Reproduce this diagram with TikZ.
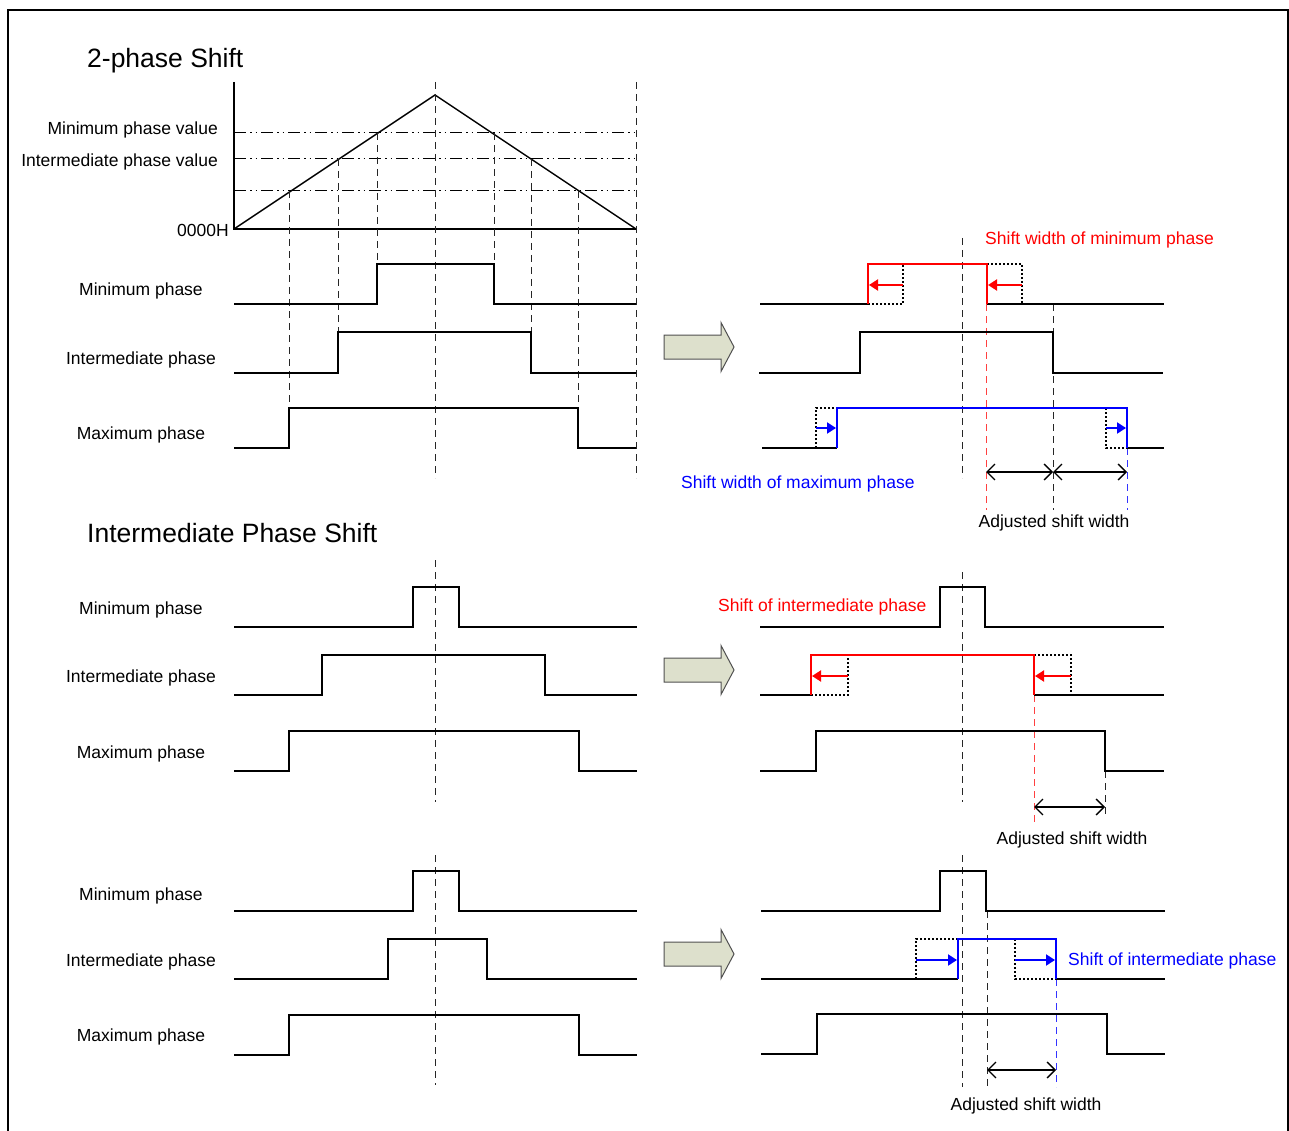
\documentclass[tikz,border=0pt]{standalone}
\usepackage{fontspec}
\setmainfont{Liberation Sans}
\usetikzlibrary{arrows.meta}
\definecolor{arrfill}{RGB}{221,224,204}
\definecolor{arrline}{RGB}{80,80,80}
\tikzset{
  wave/.style={line width=1.4pt,black,line join=miter},
  vdash/.style={line width=0.9pt,black!85,dash pattern=on 7pt off 5pt},
  ddash/.style={line width=1pt,black,dash pattern=on 12pt off 4pt on 1.5pt off 4pt on 1.5pt off 4pt},
  dotbox/.style={line width=1.2pt,black,dash pattern=on 2pt off 2pt},
  redw/.style={line width=2.2pt,red,line join=miter},
  bluew/.style={line width=2.2pt,blue,line join=miter},
  rdash/.style={line width=0.9pt,red!75,dash pattern=on 7pt off 5pt},
  bdash/.style={line width=0.9pt,blue!80,dash pattern=on 7pt off 5pt},
  shiftarr/.style={line width=2pt,-{Triangle[length=9pt,width=11pt]}},
  dimarr/.style={line width=1.3pt,{Straight Barb[length=8pt,width=16pt]}-{Straight Barb[length=8pt,width=16pt]}},
  lbl/.style={inner sep=0pt,yshift=-2.5pt,font=\fontsize{17.5}{20}\selectfont},
  ttl/.style={inner sep=0pt,yshift=-2.5pt,anchor=west,font=\fontsize{26.5}{30}\selectfont},
  blockarr/.style={fill=arrfill,draw=arrline,line width=1pt}
}
\newcommand{\pulse}[7]{\draw[wave] (#1,#5) -| (#2,#6) -| (#3,#5) -- (#4,#5);}
\newcommand{\blockarrow}[1]{\draw[blockarr] (664,#1-12) -- (721,#1-12) -- (721,#1-24.5) -- (734,#1) -- (721,#1+24.5) -- (721,#1+12) -- (664,#1+12) -- cycle;}
\begin{document}
\begin{tikzpicture}[x=1pt,y=-1pt]
\useasboundingbox (0,0) rectangle (1289,1131);
% frame
\draw[line width=2.2pt] (8,1131) -- (8,10) -- (1288,10) -- (1288,1131);

% ===== Titles =====
\node[ttl] (t1) at (87,58) {2-phase Shift};
\node[ttl] (t2) at (87,531) {Intermediate Phase Shift};

% ===== Top-left: triangle chart =====
\draw[wave] (234,82) -- (234,229) -- (636,229);
\draw[wave] (234,229) -- (435,95) -- (636,229);
\foreach \yy in {133,159,191} \draw[ddash] (234,\yy) -- (636,\yy);
\node[lbl,anchor=east] (vmin) at (218,127) {Minimum phase value};
\node[lbl,anchor=east] (vint) at (218,159) {Intermediate phase value};
\node[lbl,anchor=east] (v0) at (229,228) {0000H};

% vertical dashed lines
\draw[vdash] (435,82) -- (435,478);
\draw[vdash] (636,82) -- (636,478);
\draw[vdash] (289,191) -- (289,408);
\draw[vdash] (578,191) -- (578,408);
\draw[vdash] (338,159) -- (338,332);
\draw[vdash] (531,159) -- (531,332);
\draw[vdash] (377,133) -- (377,264);
\draw[vdash] (494,133) -- (494,264);

% waveforms
\pulse{234}{377}{494}{636}{304}{264}{}
\pulse{234}{338}{531}{636}{373}{332}{}
\pulse{234}{289}{578}{636}{448}{408}{}
\node[lbl] (l1) at (141,288) {Minimum phase};
\node[lbl] (l2) at (141,357) {Intermediate phase};
\node[lbl] (l3) at (141,432) {Maximum phase};

% ===== Top-right =====
\blockarrow{347}
\draw[vdash] (962,238) -- (962,478);
\draw[rdash] (986,304) -- (986,510);
\draw[vdash] (1053,304) -- (1053,510);
\draw[bdash] (1127,448) -- (1127,510);
% min phase
\draw[wave] (760,304) -- (868,304);
\draw[dotbox] (868,304) -- (903,304) -- (903,264);
\draw[dotbox] (987,264) -- (1022,264) -- (1022,304);
\draw[wave] (987,304) -- (1164,304);
\draw[redw] (868,304) -- (868,264) -- (987,264) -- (987,304);
\draw[shiftarr,red] (903,285) -- (869,285);
\draw[shiftarr,red] (1022,285) -- (988,285);
% intermediate
\pulse{759}{860}{1053}{1163}{373}{332}{}
% maximum
\draw[wave] (762,448) -- (837,448);
\draw[dotbox] (816,448) -- (816,408) -- (837,408);
\draw[dotbox] (1106,408) -- (1106,448) -- (1127,448);
\draw[wave] (1127,448) -- (1164,448);
\draw[bluew] (837,448) -- (837,408) -- (1127,408) -- (1127,448);
\draw[shiftarr,blue] (816,428) -- (836,428);
\draw[shiftarr,blue] (1106,428) -- (1126,428);
% dimension arrows
\coordinate (d1a) at (986,472);
\coordinate (d1b) at (1053,472);
\coordinate (d1c) at (1127,472);
\draw[dimarr] (d1a) -- (d1b);
\draw[dimarr] (d1b) -- (d1c);
\node[lbl,red,anchor=west] (s1) at (985,237) {Shift width of minimum phase};
\node[lbl,blue,anchor=west] (s2) at (681,481) {Shift width of maximum phase};
\node[lbl] (a1) at (1054,520) {Adjusted shift width};

% ===== Middle-left =====
\draw[vdash] (435,560) -- (435,802);
\pulse{234}{413}{459}{637}{627}{587}{}
\pulse{234}{322}{545}{637}{695}{655}{}
\pulse{234}{289}{579}{637}{771}{731}{}
\node[lbl] (m1) at (141,607) {Minimum phase};
\node[lbl] (m2) at (141,675) {Intermediate phase};
\node[lbl] (m3) at (141,751) {Maximum phase};

% ===== Middle-right =====
\blockarrow{670}
\draw[vdash] (962,572) -- (962,802);
\draw[rdash] (1034,695) -- (1034,823);
\draw[vdash] (1105,771) -- (1105,815);
\pulse{760}{940}{985}{1164}{627}{587}{}
\draw[wave] (760,695) -- (811,695);
\draw[dotbox] (811,695) -- (848,695) -- (848,655);
\draw[dotbox] (1034,655) -- (1071,655) -- (1071,695);
\draw[wave] (1034,695) -- (1164,695);
\draw[redw] (811,695) -- (811,655) -- (1034,655) -- (1034,695);
\draw[shiftarr,red] (848,676) -- (812,676);
\draw[shiftarr,red] (1071,676) -- (1035,676);
\pulse{760}{816}{1105}{1164}{771}{731}{}
\coordinate (d2a) at (1034,807);
\coordinate (d2b) at (1105,807);
\draw[dimarr] (d2a) -- (d2b);
\node[lbl,red,anchor=west] (s3) at (718,604) {Shift of intermediate phase};
\node[lbl] (a2) at (1072,837) {Adjusted shift width};

% ===== Bottom-left =====
\draw[vdash] (435,855) -- (435,1085);
\pulse{234}{413}{459}{637}{911}{871}{}
\pulse{234}{388}{487}{637}{979}{939}{}
\pulse{234}{289}{579}{637}{1055}{1015}{}
\node[lbl] (b1) at (141,893) {Minimum phase};
\node[lbl] (b2) at (141,959) {Intermediate phase};
\node[lbl] (b3) at (141,1034) {Maximum phase};

% ===== Bottom-right =====
\blockarrow{954}
\draw[vdash] (962,855) -- (962,1087);
\draw[vdash] (987,911) -- (987,1087);
\draw[bdash] (1056,979) -- (1056,1087);
\pulse{761}{940}{986}{1165}{911}{871}{}
\draw[wave] (761,979) -- (958,979);
\draw[dotbox] (916,979) -- (916,939) -- (958,939);
\draw[dotbox] (1015,939) -- (1015,979) -- (1056,979);
\draw[wave] (1056,979) -- (1165,979);
\draw[bluew] (958,979) -- (958,939) -- (1056,939) -- (1056,979);
\draw[shiftarr,blue] (916,960) -- (957,960);
\draw[shiftarr,blue] (1015,960) -- (1055,960);
\pulse{761}{817}{1107}{1165}{1054}{1014}{}
\coordinate (d3a) at (987,1070);
\coordinate (d3b) at (1056,1070);
\draw[dimarr] (d3a) -- (d3b);
\node[lbl,blue,anchor=west] (s4) at (1068,958) {Shift of intermediate phase};
\node[lbl] (a3) at (1026,1103) {Adjusted shift width};
\end{tikzpicture}
\end{document}
